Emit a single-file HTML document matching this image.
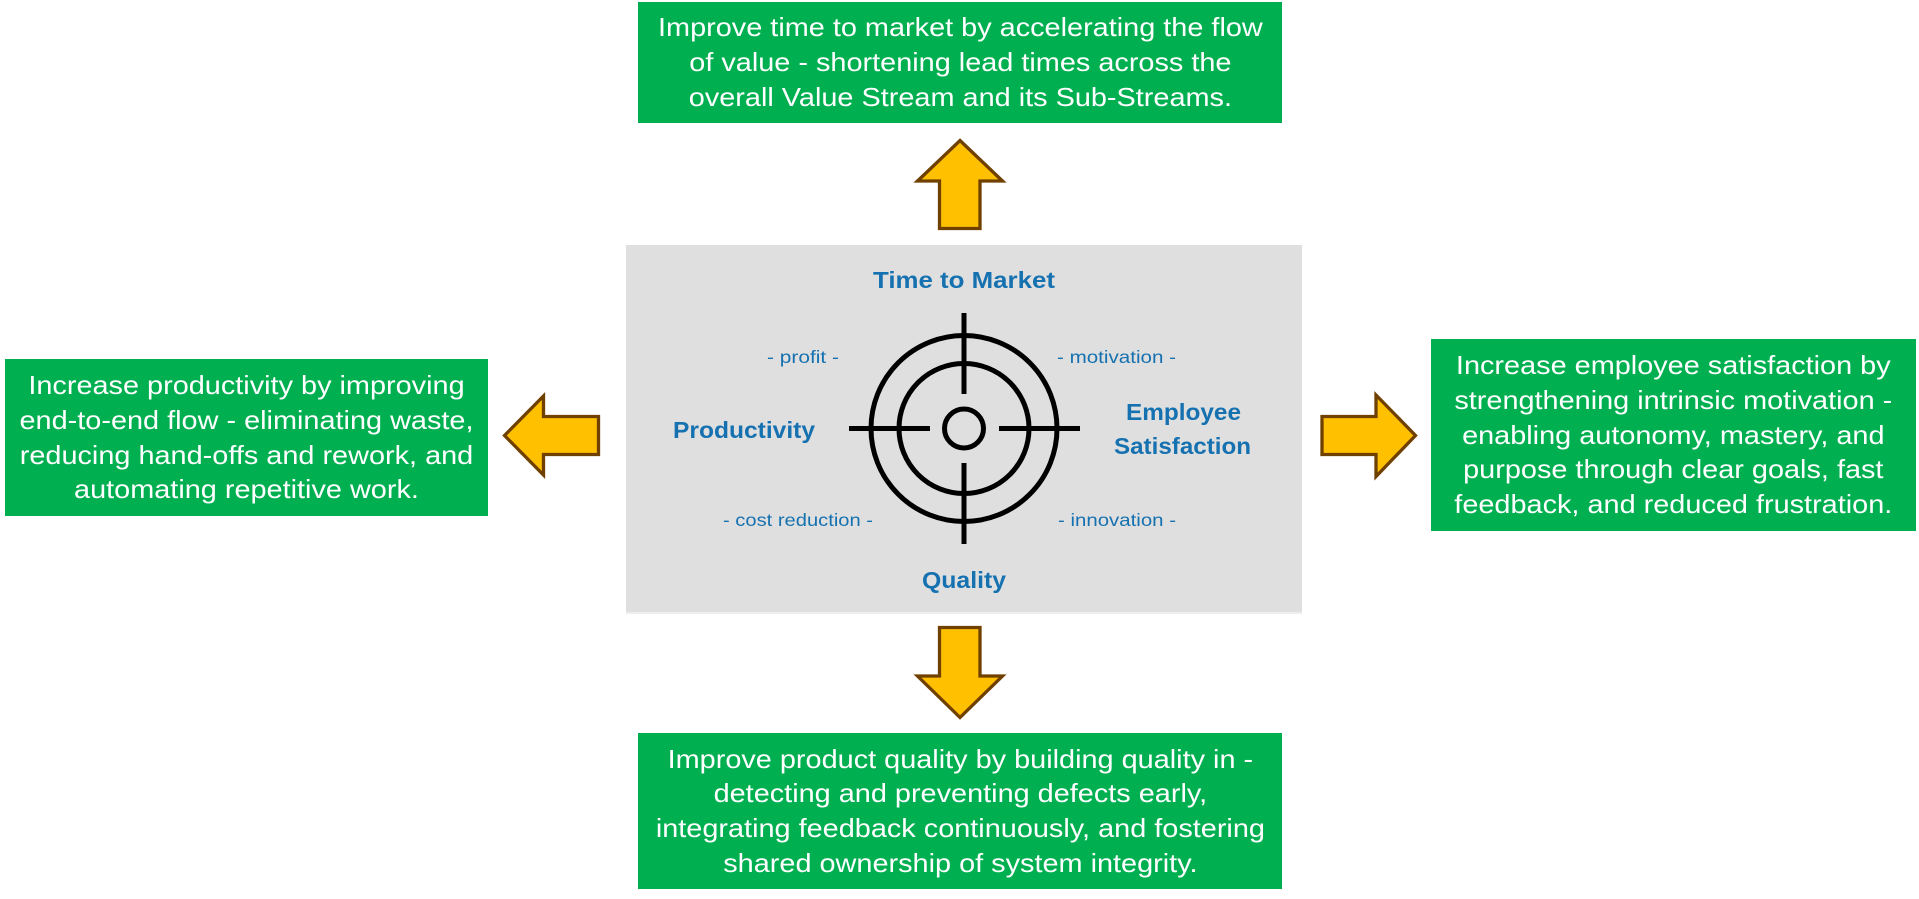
<!DOCTYPE html>
<html>
<head>
<meta charset="utf-8">
<style>
  html, body { margin:0; padding:0; background:#ffffff; }
  body { width:1919px; height:899px; position:relative; overflow:hidden; font-family:"Liberation Sans", Arial, sans-serif; }
  svg { position:absolute; left:0; top:0; }
  .box { position:absolute; background:#00B050; color:#ffffff; display:flex; align-items:center; justify-content:center; }
  .inner { transform:scaleX(1.11); transform-origin:center center; text-align:center; font-size:26px; line-height:34.7px; white-space:nowrap; }
  .inner span { display:block; }
</style>
</head>
<body>
<svg width="1919" height="899" viewBox="0 0 1919 899" xmlns="http://www.w3.org/2000/svg">
  <!-- gray panel -->
  <rect x="626" y="245" width="676" height="367" fill="#DFDFDF"/>
  <rect x="626" y="612" width="676" height="2" fill="#EEEEEE"/>

  <!-- arrows -->
  <g fill="#FFC000" stroke="#6F4000" stroke-width="3.3" stroke-linejoin="miter">
    <polygon points="960,140.5 1002.5,181 980,181 980,228.5 939.5,228.5 939.5,181 917.5,181"/>
    <polygon points="939.5,627.5 980,627.5 980,676 1002.5,676 960,717.5 917.5,676 939.5,676"/>
    <polygon points="504.5,435.5 543.5,396 543.5,416.5 598.5,416.5 598.5,454.5 543.5,454.5 543.5,475"/>
    <polygon points="1322,416.5 1376,416.5 1376,395 1415.5,435.5 1376,476.5 1376,454.5 1322,454.5"/>
  </g>

  <!-- target -->
  <g fill="none" stroke="#000000" stroke-width="5">
    <circle cx="964" cy="428.5" r="93"/>
    <circle cx="964" cy="428.5" r="65"/>
    <circle cx="964" cy="428.5" r="19.5"/>
    <line x1="964" y1="313" x2="964" y2="394"/>
    <line x1="964" y1="463" x2="964" y2="544"/>
    <line x1="849" y1="428.5" x2="930" y2="428.5"/>
    <line x1="999" y1="428.5" x2="1080" y2="428.5"/>
  </g>

  <!-- labels -->
  <g fill="#1571B0" font-family="Liberation Sans, Arial, sans-serif">
    <g font-weight="bold" font-size="23">
      <text x="873" y="288" textLength="182" lengthAdjust="spacingAndGlyphs">Time to Market</text>
      <text x="673" y="438" textLength="142" lengthAdjust="spacingAndGlyphs">Productivity</text>
      <text x="1126" y="420" textLength="115" lengthAdjust="spacingAndGlyphs">Employee</text>
      <text x="1114" y="454" textLength="137" lengthAdjust="spacingAndGlyphs">Satisfaction</text>
      <text x="922" y="588" textLength="84" lengthAdjust="spacingAndGlyphs">Quality</text>
    </g>
    <g font-size="17.5">
      <text x="767" y="363" textLength="72" lengthAdjust="spacingAndGlyphs">- profit -</text>
      <text x="1057" y="363" textLength="119" lengthAdjust="spacingAndGlyphs">- motivation -</text>
      <text x="723" y="526" textLength="150" lengthAdjust="spacingAndGlyphs">- cost reduction -</text>
      <text x="1058" y="526" textLength="118" lengthAdjust="spacingAndGlyphs">- innovation -</text>
    </g>
  </g>
</svg>

<div class="box" style="left:638px; top:2px; width:644px; height:121px;">
  <div class="inner">
    <span>Improve time to market by accelerating the flow</span>
    <span>of value - shortening lead times across the</span>
    <span>overall Value Stream and its Sub-Streams.</span>
  </div>
</div>

<div class="box" style="left:5px; top:359px; width:483px; height:157px;">
  <div class="inner">
    <span>Increase productivity by improving</span>
    <span>end-to-end flow - eliminating waste,</span>
    <span>reducing hand-offs and rework, and</span>
    <span>automating repetitive work.</span>
  </div>
</div>

<div class="box" style="left:1431px; top:339px; width:485px; height:192px;">
  <div class="inner">
    <span>Increase employee satisfaction by</span>
    <span>strengthening intrinsic motivation -</span>
    <span>enabling autonomy, mastery, and</span>
    <span>purpose through clear goals, fast</span>
    <span>feedback, and reduced frustration.</span>
  </div>
</div>

<div class="box" style="left:638px; top:733px; width:644px; height:156px;">
  <div class="inner">
    <span>Improve product quality by building quality in -</span>
    <span>detecting and preventing defects early,</span>
    <span>integrating feedback continuously, and fostering</span>
    <span>shared ownership of system integrity.</span>
  </div>
</div>
</body>
</html>
